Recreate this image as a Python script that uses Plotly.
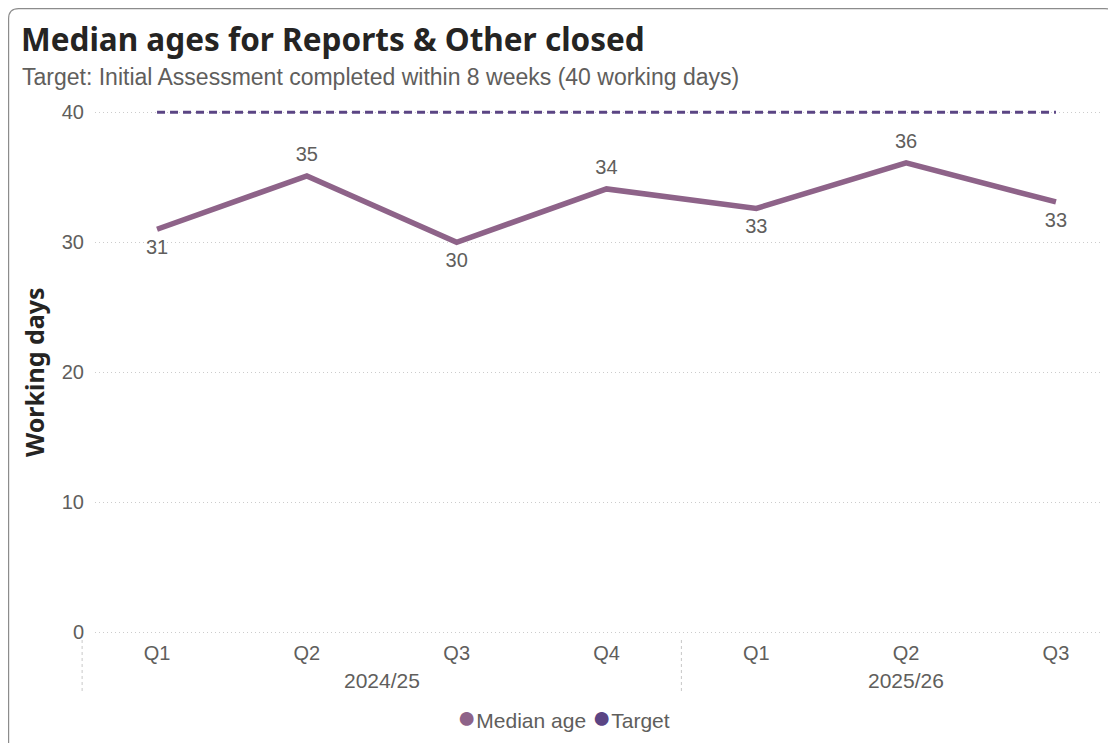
import plotly.graph_objects as go

# ---- data ----
years = ["2024/25", "2024/25", "2024/25", "2024/25", "2025/26", "2025/26", "2025/26"]
quarters = ["Q1", "Q2", "Q3", "Q4", "Q1", "Q2", "Q3"]
median_age = [31.0, 35.1, 30.0, 34.1, 32.6, 36.1, 33.1]
median_labels = ["31", "35", "30", "34", "33", "36", "33"]
target = [40, 40, 40, 40, 40, 40, 40]
y_ticks = [0, 10, 20, 30, 40]

title_text = "Median ages for Reports & Other closed"
subtitle_text = "Target: Initial Assessment completed within 8 weeks (40 working days)"

# ---- layout geometry (page pixels; the page body adds an 8px offset) ----
OFF = 8
W, H = 1108, 735
PL, PR, PT, PB = 95, 1103, 107, 635
L, T = PL - OFF, PT - OFF
R, B = W - (PR - OFF), H - (PB - OFF)
PW, PH = W - L - R, H - T - B
XR = [-0.414, 6.314]
YR = [-0.2, 40.4]

def px_x(p):
    return (p - OFF - L) / PW

def px_y(p):
    return (H - B - (p - OFF)) / PH

def data_to_paper_x(v):
    return (v - XR[0]) / (XR[1] - XR[0])

MED_COLOR = "#8E6389"
TGT_COLOR = "#5B4584"
TXT = "#605E5C"
FONT = "Liberation Sans, Arial"
BOLD_FONT = "Noto Sans, Open Sans"

xs = list(range(len(quarters)))
positions = ["bottom center" if i in (0, 2, 4, 6) else "top center" for i in xs]

fig = go.Figure()
fig.add_trace(go.Scatter(
    x=xs, y=target, mode="lines", name="Target",
    line=dict(color=TGT_COLOR, width=3, dash="8px,5px"),
    showlegend=False, hoverinfo="skip",
))
fig.add_trace(go.Scatter(
    x=xs, y=median_age, mode="lines+markers+text", name="Median age",
    line=dict(color=MED_COLOR, width=5.5),
    marker=dict(size=14, color="rgba(0,0,0,0)"),
    text=median_labels, textposition=positions,
    textfont=dict(family=FONT, size=20, color=TXT),
    showlegend=False, cliponaxis=False,
))

fig.update_xaxes(
    range=XR, tickmode="array", tickvals=xs, ticktext=quarters,
    showgrid=False, zeroline=False, showline=False, ticks="",
    tickfont=dict(family=FONT, size=20, color=TXT),
    ticklabelstandoff=4,
)
fig.update_yaxes(
    range=YR, tickmode="array", tickvals=y_ticks,
    showgrid=True, gridcolor="#CCCCCC", griddash="1px,3px", gridwidth=1,
    zeroline=False, showline=False, ticks="",
    tickfont=dict(family=FONT, size=20, color=TXT),
    ticklabelstandoff=10,
)

annotations = []
annotations.append(dict(
    text=f"<b>{title_text}</b>", x=px_x(19), y=px_y(38), xref="paper", yref="paper",
    xanchor="left", yanchor="middle", showarrow=False,
    font=dict(family=BOLD_FONT, size=31.5, color="#252423"),
))
annotations.append(dict(
    text=subtitle_text, x=px_x(20), y=px_y(77), xref="paper", yref="paper",
    xanchor="left", yanchor="middle", showarrow=False,
    font=dict(family=FONT, size=23, color=TXT),
))
annotations.append(dict(
    text="<b>Working days</b>", x=px_x(34), y=px_y(372), xref="paper", yref="paper",
    xanchor="center", yanchor="middle", showarrow=False, textangle=-90,
    font=dict(family=BOLD_FONT, size=25, color="#252423"),
))

groups = []
for i, yv in enumerate(years):
    if not groups or groups[-1][0] != yv:
        groups.append([yv, []])
    groups[-1][1].append(i)
shapes = []
for name, idx in groups:
    center = sum(idx) / len(idx)
    annotations.append(dict(
        text=name, x=center, y=px_y(680), xref="x", yref="paper",
        xanchor="center", yanchor="middle", showarrow=False,
        font=dict(family=FONT, size=21, color=TXT),
    ))
    sep = data_to_paper_x(idx[0] - 0.5)
    shapes.append(dict(
        type="line", xref="paper", yref="paper", x0=sep, x1=sep,
        y0=px_y(640), y1=px_y(694), line=dict(color="#C8C8C8", width=1, dash="dot"),
    ))

annotations.append(dict(
    text=(f"<span style='color:{MED_COLOR};font-size:32px'>●</span>Median age "
          f"<span style='color:{TGT_COLOR};font-size:32px'>●</span>Target"),
    x=px_x(563), y=px_y(717), xref="paper", yref="paper",
    xanchor="center", yanchor="middle", showarrow=False,
    font=dict(family=FONT, size=21, color=TXT),
))

x0, y0, x1, y1, r = 8.6, 8.6, 1115, 790, 10
path = (
    f"M {px_x(x0)},{px_y(y1)} L {px_x(x0)},{px_y(y0 + r)} "
    f"Q {px_x(x0)},{px_y(y0)} {px_x(x0 + r)},{px_y(y0)} "
    f"L {px_x(x1 - r)},{px_y(y0)} Q {px_x(x1)},{px_y(y0)} {px_x(x1)},{px_y(y0 + r)} "
    f"L {px_x(x1)},{px_y(y1)}"
)
shapes.append(dict(type="path", xref="paper", yref="paper", path=path,
                   line=dict(color="#8C8C8C", width=1.2)))

fig.update_layout(
    width=W, height=H,
    margin=dict(l=L, r=R, t=T, b=B),
    paper_bgcolor="white", plot_bgcolor="white",
    showlegend=False,
    annotations=annotations, shapes=shapes,
)

fig.write_html("out.html")
